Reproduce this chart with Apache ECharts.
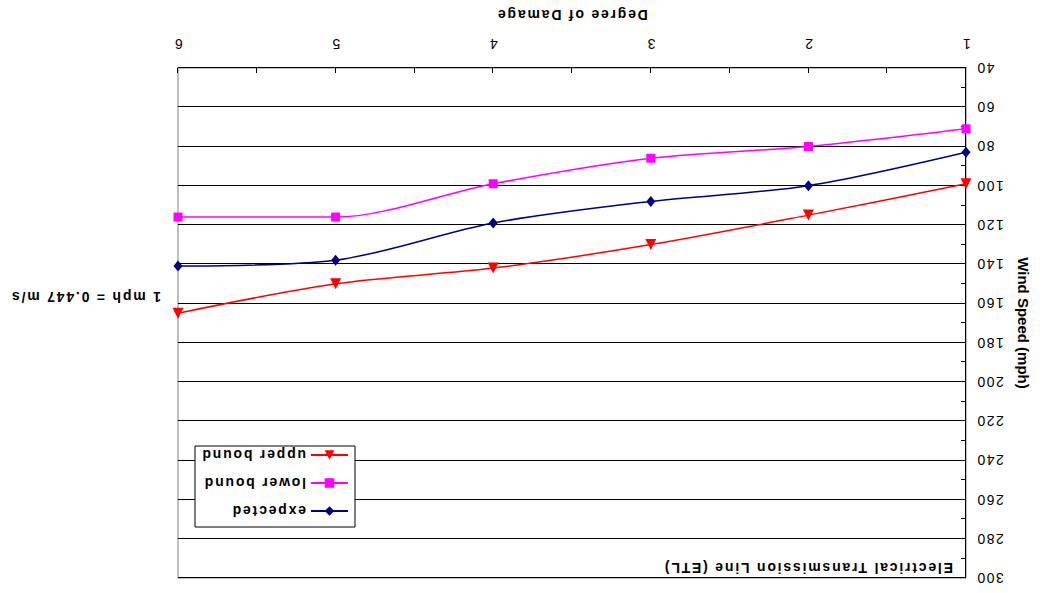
<!DOCTYPE html>
<html>
<head>
<meta charset="utf-8">
<script src="https://cdn.jsdelivr.net/npm/echarts@6/dist/echarts.min.js"></script>
<style>
  html, body { margin: 0; padding: 0; background: #fff; }
  #c { width: 1042px; height: 593px; transform: rotate(180deg); transform-origin: 50% 50%; }
  #c text[style*="bold"] { letter-spacing: 1.8px; }
  #c text.tick { letter-spacing: 1.5px; }
</style>
</head>
<body>
<div id="c"></div>
<script>
const degrees = [1, 2, 3, 4, 5, 6];
const expected = [83, 100, 108, 119, 138, 141];
const lowerBound = [71, 80, 86, 99, 116, 116];
const upperBound = [99, 115, 130, 142, 150, 165];
const seriesNames = ['expected', 'lower bound', 'upper bound'];
const titleText = 'Electrical Transmission Line (ETL)';
const noteText = '1 mph = 0.447 m/s';

const FONT = 'Liberation Sans';
const chart = echarts.init(document.getElementById('c'), null, { renderer: 'svg' });
const toPts = arr => degrees.map((d, i) => [d, arr[i]]);

chart.setOption({
  animation: false,
  backgroundColor: '#fff',
  textStyle: { fontFamily: FONT, color: '#000' },
  grid: { left: 76, right: 178, top: 15, bottom: 68, show: true, borderColor: '#808080', borderWidth: 1, backgroundColor: 'transparent' },
  xAxis: {
    type: 'value', min: 1, max: 6, interval: 1,
    name: 'Degree of Damage', nameLocation: 'middle', nameGap: 46,
    nameTextStyle: { fontFamily: FONT, fontSize: 14, fontWeight: 'bold', color: '#000' },
    axisLine: { show: true, lineStyle: { color: '#000', width: 1 } },
    axisTick: { show: true, inside: true, length: 5, lineStyle: { color: '#000' } },
    minorTick: { show: true, splitNumber: 2, length: 5, lineStyle: { color: '#000' } },
    axisLabel: { fontFamily: FONT, fontSize: 14, color: '#000', margin: 17 },
    splitLine: { show: false }
  },
  yAxis: {
    type: 'value', min: 40, max: 300, interval: 20,
    name: 'Wind Speed (mph)', nameLocation: 'middle', nameGap: 50, nameRotate: 90,
    nameTextStyle: { fontFamily: FONT, fontSize: 15, fontWeight: 700, color: '#000' },
    axisLine: { show: true, lineStyle: { color: '#000', width: 1 } },
    axisTick: { show: true, inside: true, length: 5, lineStyle: { color: '#000' } },
    minorTick: { show: true, splitNumber: 2, length: 5, lineStyle: { color: '#000' } },
    axisLabel: { fontFamily: FONT, fontSize: 14, color: '#000', margin: 10 },
    splitLine: { show: true, lineStyle: { color: '#000', width: 1 } }
  },
  legend: {
    orient: 'vertical', left: 693, top: 75, z: 10,
    itemWidth: 37, itemHeight: 12, itemGap: 14, padding: 0,
    data: seriesNames,
    textStyle: { fontFamily: FONT, fontSize: 14, fontWeight: 'bold', color: '#000' }
  },
  graphic: [
    { type: 'rect', z: 9, shape: { x: 687, y: 66, width: 160, height: 81 }, style: { fill: '#fff', stroke: '#000', lineWidth: 1 } },
    { type: 'text', left: 89, top: 18, z: 9, style: { text: titleText, font: 'bold 14px "Liberation Sans"', fill: '#000' } },
    { type: 'text', left: 881, top: 289, z: 9, style: { text: noteText, font: 'bold 14px "Liberation Sans"', fill: '#000' } }
  ],
  series: [
    { name: seriesNames[0], type: 'line', smooth: 0.3, data: toPts(expected), symbol: 'diamond', symbolSize: [9, 11],
      lineStyle: { color: '#000080', width: 1.5 }, itemStyle: { color: '#000080' } },
    { name: seriesNames[1], type: 'line', smooth: 0.3, data: toPts(lowerBound), symbol: 'rect', symbolSize: 9,
      lineStyle: { color: '#FF00FF', width: 1.5 }, itemStyle: { color: '#FF00FF' } },
    { name: seriesNames[2], type: 'line', smooth: 0.3, data: toPts(upperBound), symbol: 'triangle', symbolSize: 11,
      lineStyle: { color: '#FF0000', width: 1.5 }, itemStyle: { color: '#FF0000' } }
  ]
});

// tick labels in the reference are slightly spaced out as well
function markTicks() {
  document.querySelectorAll('#c svg text').forEach(t => {
    if (/^\d+$/.test(t.textContent.trim())) t.classList.add('tick');
  });
}
markTicks();
chart.on('finished', markTicks);
</script>
</body>
</html>
